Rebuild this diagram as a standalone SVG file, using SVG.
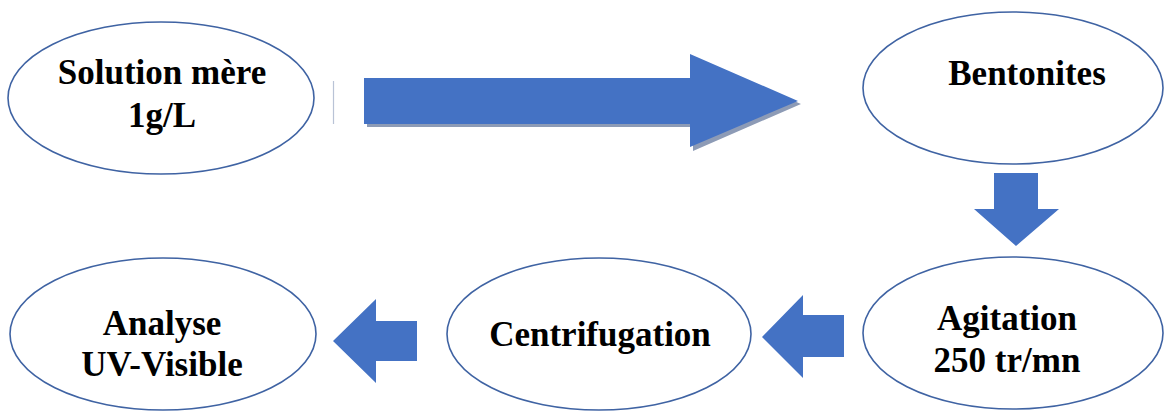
<svg xmlns="http://www.w3.org/2000/svg" width="1164" height="416" viewBox="0 0 1164 416">
<style>
.node ellipse{fill:#fff;stroke:#3f63a3;stroke-width:1.6}
.node text{font-family:'Liberation Serif','Times New Roman','DejaVu Serif',serif;font-weight:700;font-size:35px;fill:#000;text-anchor:middle}
.arr{fill:#4472c4}
.shadow{fill:#8d9bb6}
</style>
<rect width="1164" height="416" fill="#fff"/>
<g id="n1" class="node">
<ellipse cx="161" cy="98" rx="153" ry="76"/>
<text x="162" y="84">Solution mère</text>
<text x="162" y="127">1g/L</text>
</g>
<g id="n2" class="node">
<ellipse cx="1013" cy="88" rx="150" ry="76"/>
<text x="1027" y="85">Bentonites</text>
</g>
<g id="n3" class="node">
<ellipse cx="1013" cy="333" rx="150" ry="76"/>
<text x="1007" y="330">Agitation</text>
<text x="1007" y="372">250 tr/mn</text>
</g>
<g id="n4" class="node">
<ellipse cx="599" cy="334" rx="152" ry="76"/>
<text x="600" y="346">Centrifugation</text>
</g>
<g id="n5" class="node">
<ellipse cx="163" cy="334" rx="153" ry="76"/>
<text x="162" y="335">Analyse</text>
<text x="162" y="376">UV-Visible</text>
</g>
<g id="connectors">
<line x1="333.5" y1="81" x2="333.5" y2="124" stroke="#b9c3d6" stroke-width="1.2"/>
<polygon class="shadow" points="367,81 693,81 693,57 801,104 693,151 693,127 367,127"/>
<polygon class="arr" points="364,78 690,78 690,54 798,101 690,147 690,124 364,124"/>
<polygon class="arr" points="994,173 1038,173 1038,209 1059,209 1016,246 974,209 994,209"/>
<polygon class="arr" points="844,315 844,357 803,357 803,378 762,337 803,295 803,315"/>
<polygon class="arr" points="417,321 417,361 376,361 376,383 333,341 376,299 376,321"/>
</g>
</svg>
